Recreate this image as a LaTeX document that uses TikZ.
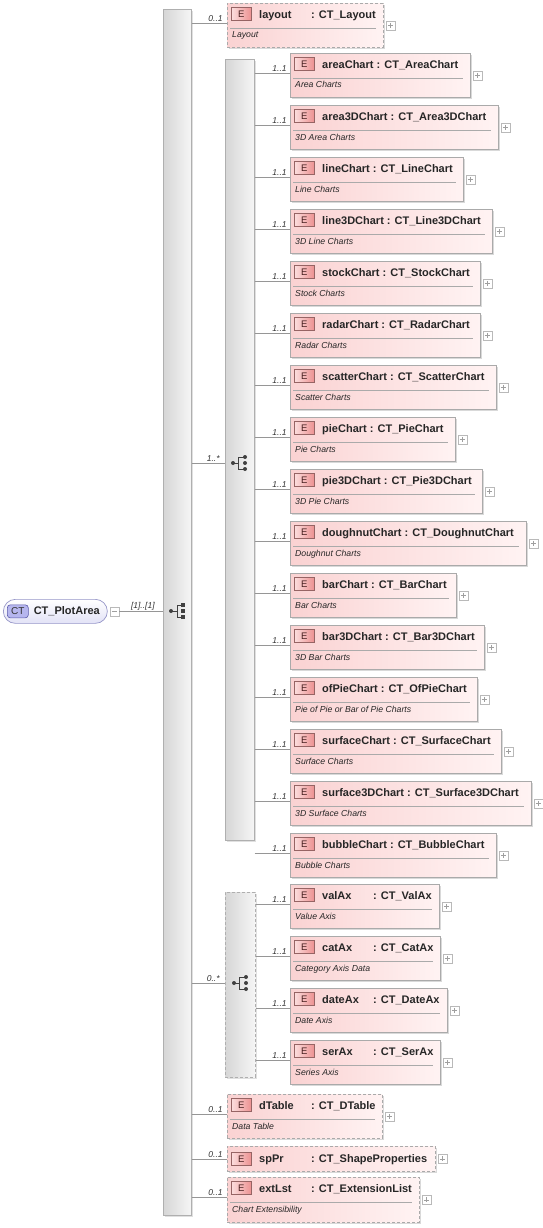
\documentclass[tikz,border=0pt]{standalone}
\usepackage{fontspec}
\setmainfont{Liberation Sans}
\usetikzlibrary{positioning,shadows}

\definecolor{elemL}{RGB}{250,210,210}
\definecolor{elemR}{RGB}{255,243,243}
\definecolor{elemEdge}{RGB}{170,170,170}
\definecolor{badgeT}{RGB}{252,222,222}
\definecolor{badgeB}{RGB}{236,145,145}
\definecolor{badgeEdge}{RGB}{150,100,100}
\definecolor{badgeText}{RGB}{70,30,30}
\definecolor{barL}{RGB}{214,214,214}
\definecolor{barR}{RGB}{246,246,246}
\definecolor{barEdge}{RGB}{175,175,175}
\definecolor{lineGray}{RGB}{150,150,150}
\definecolor{ctFill}{RGB}{182,182,238}
\definecolor{ctEdge}{RGB}{90,90,170}
\definecolor{pillEdge}{RGB}{150,150,200}
\definecolor{pillB}{RGB}{226,226,246}

% element box: name, x, top, width, height, extra style, title, documentation
\newcommand{\xelem}[8]{%
  \node[elembox, #6, minimum width=#4pt, minimum height=#5pt, anchor=north west] (#1) at (#2,#3) {};
  \node[ebadge, anchor=north west] (#1-b) at ([shift={(4,4)}]#1.north west) {E};
  \node[etitle, anchor=base west] (#1-t) at ([shift={(32,15.5)}]#1.north west) {#7};
  \draw[seprule] ([shift={(3,25)}]#1.north west) -- ([shift={(-8,25)}]#1.north east);
  \node[edoc, anchor=base west] (#1-d) at ([shift={(5,35)}]#1.north west) {#8};
  \node[plusbox, anchor=west] (#1-p) at ([xshift=2pt]#1.east) {};
  \coordinate (#1-in) at ([shift={(0,20)}]#1.north west);
}

\begin{document}
\begin{tikzpicture}[x=1pt, y=-1pt,
    conn/.style={draw=lineGray, line width=0.7pt},
    mult/.style={font=\fontsize{8.5}{9}\selectfont\itshape, text=black!80, inner sep=1pt, anchor=south east},
    elembox/.style={draw=elemEdge, line width=0.7pt, left color=elemL, right color=elemR, inner sep=0pt,
      drop shadow={shadow xshift=1.3pt, shadow yshift=-1.3pt, opacity=0.25, fill=black!60}},
    optbox/.style={dash pattern=on 3pt off 2pt},
    ebadge/.style={draw=badgeEdge, line width=0.5pt, left color=badgeT, right color=badgeB,
      minimum width=20pt, minimum height=13pt, inner sep=0pt, font=\fontsize{9.5}{9.5}\selectfont, text=badgeText},
    etitle/.style={font=\fontsize{11}{12}\selectfont\bfseries, inner sep=0pt, text=black!85},
    edoc/.style={font=\fontsize{8.7}{9}\selectfont\itshape, inner sep=0pt, text=black!85},
    seprule/.style={draw=elemEdge, line width=0.6pt},
    plusbox/.style={draw=gray!55, fill=white, minimum size=9pt, inner sep=0pt, line width=0.5pt,
      path picture={\draw[gray!75, line width=0.5pt]
        ([xshift=2pt]path picture bounding box.west) -- ([xshift=-2pt]path picture bounding box.east)
        ([yshift=-2pt]path picture bounding box.north) -- ([yshift=2pt]path picture bounding box.south);}},
    minusbox/.style={draw=gray!55, fill=white, minimum size=9pt, inner sep=0pt, line width=0.5pt,
      path picture={\draw[gray!75, line width=0.5pt]
        ([xshift=2pt]path picture bounding box.west) -- ([xshift=-2pt]path picture bounding box.east);}},
    seqbar/.style={draw=barEdge, line width=0.7pt, left color=barL, right color=barR, inner sep=0pt,
      anchor=north west, drop shadow={shadow xshift=1.3pt, shadow yshift=-1.3pt, opacity=0.2, fill=black!60}},
    icondot/.style={fill=black!75, draw=none}]
  \useasboundingbox (0,0) rectangle (542,1228);

  % root type
  \node[draw=pillEdge, line width=0.7pt, rounded corners=12pt, top color=white, bottom color=pillB,
    minimum width=104pt, minimum height=24pt, anchor=north west, inner sep=0pt] (pa) at (3,599) {};
  \node[draw=ctEdge, line width=0.6pt, rounded corners=3pt, fill=ctFill, minimum width=21pt, minimum height=13pt,
    inner sep=0pt, font=\fontsize{10}{10}\selectfont, text=black!80, anchor=west] (pa-b) at ([xshift=4pt]pa.west) {CT};
  \node[etitle, anchor=west] (pa-t) at ([xshift=5pt]pa-b.east) {CT\_PlotArea};
  \node[minusbox, anchor=west] (pa-m) at ([xshift=2pt]pa.east) {};

  % compositors
  \node[seqbar, minimum width=28pt, minimum height=1206pt] (outer) at (163,9) {};
  \node[seqbar, minimum width=29pt, minimum height=781pt] (charts) at (225,59) {};
  \node[seqbar, optbox, minimum width=30pt, minimum height=185pt] (axes) at (225,892) {};

  \draw[conn] (pa-m.east) -- (outer.west |- pa-m.east) node[mult, pos=1, xshift=-7pt] {[1]..[1]};
  \draw[conn] (outer.east |- 0,463) -- (charts.west |- 0,463) node[mult, pos=1, xshift=-4pt] {1..*};
  \draw[conn] (outer.east |- 0,983) -- (axes.west |- 0,983) node[mult, pos=1, xshift=-4pt] {0..*};

  % sequence icon
  \begin{scope}[shift={(177,611)}]
    \draw[black!75, line width=0.8pt] (-6,0) -- (0,0) (0,-6) -- (0,6) (0,-6) -- (6,-6) (6,6) -- (0,6);
    \fill[icondot] (-6,0) circle (2);
    \foreach \yy in {-6,0,6} \fill[icondot] (4.2,\yy-1.8) rectangle (7.8,\yy+1.8);
  \end{scope}
  % choice icons
  \foreach \cx/\cy in {239/463, 240/983} {
    \begin{scope}[shift={(\cx,\cy)}]
      \draw[black!75, line width=0.8pt] (-6,0) -- (-1,0) (-1,-6) -- (-1,6) (-1,-6) -- (6,-6) (-1,6) -- (6,6);
      \fill[icondot] (-6,0) circle (2);
      \foreach \yy in {-6,0,6} \fill[icondot] (6,\yy) circle (2);
    \end{scope}
  }

  % layout
  \xelem{layout}{227}{3}{156}{44}{optbox}{\makebox[52pt][l]{layout}: CT\_Layout}{Layout}
  \draw[conn] (outer.east |- layout-in) -- (layout-in) node[mult, pos=1, xshift=-3pt] {0..1};

  % chart choice
  \foreach \nm/\ty/\dc/\bw [count=\i] in {
      areaChart/CT\_AreaChart/Area Charts/180,
      area3DChart/CT\_Area3DChart/3D Area Charts/208,
      lineChart/CT\_LineChart/Line Charts/173,
      line3DChart/CT\_Line3DChart/3D Line Charts/202,
      stockChart/CT\_StockChart/Stock Charts/190,
      radarChart/CT\_RadarChart/Radar Charts/190,
      scatterChart/CT\_ScatterChart/Scatter Charts/206,
      pieChart/CT\_PieChart/Pie Charts/165,
      pie3DChart/CT\_Pie3DChart/3D Pie Charts/192,
      doughnutChart/CT\_DoughnutChart/Doughnut Charts/236,
      barChart/CT\_BarChart/Bar Charts/166,
      bar3DChart/CT\_Bar3DChart/3D Bar Charts/194,
      ofPieChart/CT\_OfPieChart/Pie of Pie or Bar of Pie Charts/187,
      surfaceChart/CT\_SurfaceChart/Surface Charts/211,
      surface3DChart/CT\_Surface3DChart/3D Surface Charts/241,
      bubbleChart/CT\_BubbleChart/Bubble Charts/206} {
    \pgfmathsetmacro{\ytop}{53+52*(\i-1)}
    \xelem{\nm}{290}{\ytop}{\bw}{44}{}{\nm{} : \ty}{\dc}
    \draw[conn] (charts.east |- \nm-in) -- (\nm-in) node[mult, pos=1, xshift=-2pt] {1..1};
  }

  % axes
  \foreach \nm/\ty/\dc/\bw [count=\i] in {
      valAx/CT\_ValAx/Value Axis/149,
      catAx/CT\_CatAx/Category Axis Data/150,
      dateAx/CT\_DateAx/Date Axis/157,
      serAx/CT\_SerAx/Series Axis/150} {
    \pgfmathsetmacro{\ytop}{884+52*(\i-1)}
    \xelem{\nm}{290}{\ytop}{\bw}{44}{}{\makebox[51pt][l]{\nm}: \ty}{\dc}
    \draw[conn] (axes.east |- \nm-in) -- (\nm-in) node[mult, pos=1, xshift=-2pt] {1..1};
  }

  % tail elements
  \xelem{dTable}{227}{1094}{155}{44}{optbox}{\makebox[52pt][l]{dTable}: CT\_DTable}{Data Table}
  \draw[conn] (outer.east |- dTable-in) -- (dTable-in) node[mult, pos=1, xshift=-3pt] {0..1};

  \node[elembox, optbox, minimum width=208pt, minimum height=25pt, anchor=north west] (spPr) at (227,1146) {};
  \node[ebadge, anchor=west] (spPr-b) at ([xshift=4pt]spPr.west) {E};
  \node[etitle, anchor=base west] (spPr-t) at ([shift={(32,16.5)}]spPr.north west) {\makebox[52pt][l]{spPr}: CT\_ShapeProperties};
  \node[plusbox, anchor=west] (spPr-p) at ([xshift=2pt]spPr.east) {};
  \draw[conn] (outer.east |- spPr.west) -- (spPr.west) node[mult, pos=1, xshift=-3pt] {0..1};

  \xelem{extLst}{227}{1177}{192}{45}{optbox}{\makebox[52pt][l]{extLst}: CT\_ExtensionList}{Chart Extensibility}
  \draw[conn] (outer.east |- extLst-in) -- (extLst-in) node[mult, pos=1, xshift=-3pt] {0..1};
\end{tikzpicture}
\end{document}
